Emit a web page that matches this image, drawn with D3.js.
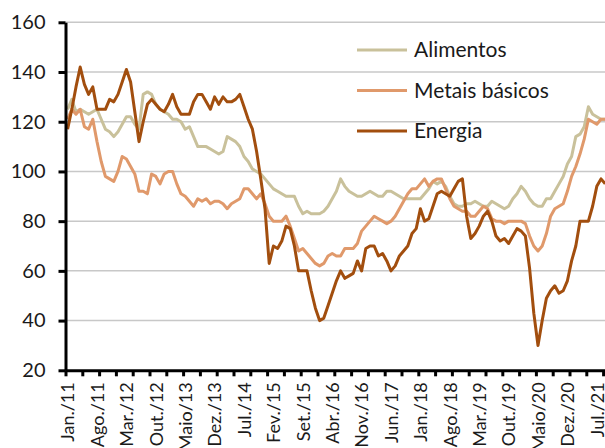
<!DOCTYPE html>
<html>
<head>
<meta charset="utf-8">
<script src="https://cdn.jsdelivr.net/npm/d3@7"></script>
<style>
  body { margin: 0; background: #fff; }
  svg { display: block; }
  text { font-family: Lato, "Noto Sans", sans-serif; fill: #1a1a1a; }
</style>
</head>
<body>
<svg id="chart" width="605" height="448"></svg>
<script>
// Monthly commodity price indices, Jan/2011 onwards
const xTickLabels = ["Jan./11", "Ago./11", "Mar./12", "Out./12", "Maio/13", "Dez./13", "Jul./14",
  "Fev./15", "Set./15", "Abr./16", "Nov./16", "Jun./17", "Jan./18", "Ago./18", "Mar./19",
  "Out./19", "Maio/20", "Dez./20", "Jul./21"];
const xTickMonths = [0, 7, 14, 21, 28, 35, 42, 49, 56, 63, 70, 77, 84, 91, 98, 105, 112, 119, 126];
const yTicks = [20, 40, 60, 80, 100, 120, 140, 160];

const alimentos = [125, 129, 124, 125, 124, 123, 124, 125, 121, 117, 116, 114, 116, 119, 122, 122,
  119, 117, 131, 132, 131, 127, 125, 124, 123, 121, 121, 120, 117, 118, 114, 110,
  110, 110, 109, 108, 107, 108, 114, 113, 112, 110, 106, 104, 101, 100, 99, 97,
  95, 93, 92, 91, 90, 90, 90, 86, 83, 84, 83, 83, 83, 84, 86, 89,
  92, 97, 94, 92, 91, 90, 90, 91, 92, 91, 90, 90, 92, 92, 91, 90,
  89, 89, 89, 89, 89, 91, 93, 96, 95, 96, 94, 90, 87, 86, 86, 87,
  87, 88, 87, 86, 86, 88, 87, 86, 85, 86, 89, 91, 94, 92, 89, 87,
  86, 86, 89, 89, 92, 95, 98, 103, 106, 114, 115, 118, 126, 123, 122, 121, 121];

const metais = [121, 125, 123, 125, 118, 117, 121, 112, 104, 98, 97, 96, 100, 106, 105, 102,
  99, 92, 92, 91, 99, 98, 95, 99, 100, 100, 95, 91, 90, 88, 86, 89,
  88, 89, 87, 88, 88, 87, 85, 87, 88, 89, 93, 93, 91, 89, 91, 87,
  82, 80, 80, 80, 82, 78, 73, 68, 69, 67, 65, 63, 62, 63, 66, 67,
  66, 66, 69, 69, 69, 71, 76, 78, 80, 82, 81, 80, 79, 80, 82, 85,
  88, 91, 93, 93, 95, 97, 94, 96, 97, 97, 93, 89, 86, 85, 84, 84,
  82, 82, 84, 86, 85, 81, 80, 80, 79, 80, 80, 80, 80, 79, 74, 70,
  68, 70, 75, 82, 85, 86, 87, 92, 98, 102, 107, 113, 121, 120, 119, 121, 121];

const energia = [117, 125, 134, 142, 135, 131, 134, 125, 125, 125, 129, 128, 131, 136, 141, 136,
  124, 112, 120, 127, 129, 127, 125, 124, 127, 131, 126, 123, 123, 123, 128, 131,
  131, 128, 125, 130, 127, 130, 128, 128, 129, 131, 126, 121, 117, 108, 97, 85,
  63, 70, 69, 72, 78, 77, 70, 60, 60, 60, 52, 45, 40, 41, 46, 51,
  56, 60, 57, 58, 59, 64, 60, 69, 70, 70, 66, 67, 64, 60, 62, 66,
  68, 70, 75, 77, 85, 80, 81, 86, 91, 92, 91, 90, 93, 96, 97, 82,
  73, 75, 78, 82, 84, 80, 74, 72, 73, 71, 74, 77, 76, 74, 61, 43,
  30, 40, 49, 52, 54, 51, 52, 56, 64, 70, 80, 80, 80, 86, 94, 97, 95];

const seriesNames = ["Alimentos", "Metais básicos", "Energia"];
const seriesColors = ["#c9c19b", "#e0996b", "#a24e0e"];
const seriesData = [alimentos, metais, energia];

const svg = d3.select("#chart");
const W = 605, H = 448;
const plot = { left: 65.5, top: 22.3, bottom: 370.3 };
const monthWidth = 4.2;
const nMonths = energia.length;

const x = d3.scaleLinear()
  .domain([-0.5, nMonths - 0.5])
  .range([plot.left, plot.left + nMonths * monthWidth]);
const y = d3.scaleLinear().domain([20, 160]).range([plot.bottom, plot.top]);

svg.append("rect").attr("width", W).attr("height", H).attr("fill", "#fff");

// horizontal gridlines
svg.append("g")
  .selectAll("line")
  .data(yTicks.filter(v => v > 20))
  .join("line")
  .attr("x1", plot.left).attr("x2", W)
  .attr("y1", d => y(d)).attr("y2", d => y(d))
  .attr("stroke", "#c8c8c8").attr("stroke-width", 1.5);

// series lines
const line = d3.line().x((d, i) => x(i)).y(d => y(d));
svg.append("g")
  .selectAll("path")
  .data(seriesData)
  .join("path")
  .attr("d", line)
  .attr("fill", "none")
  .attr("stroke", (d, i) => seriesColors[i])
  .attr("stroke-width", 3)
  .attr("stroke-linejoin", "round");

// y axis
const yAxis = svg.append("g")
  .attr("transform", `translate(${plot.left},0)`)
  .call(d3.axisLeft(y).tickValues(yTicks).tickSize(7).tickPadding(13).tickSizeOuter(0));
yAxis.select(".domain").attr("stroke", "#000").attr("stroke-width", 3);
yAxis.selectAll(".tick line").attr("stroke", "#000").attr("stroke-width", 3);
yAxis.selectAll(".tick text").style("font-size", "20px").style("font-family", "Lato, sans-serif").attr("fill", "#1a1a1a");

// x axis: tick marks every four months
const tickBounds = d3.range(-0.5, nMonths, 4);
const xAxis = svg.append("g")
  .attr("transform", `translate(0,${plot.bottom})`)
  .call(d3.axisBottom(x).tickValues(tickBounds).tickSize(6).tickFormat("").tickSizeOuter(0));
xAxis.select(".domain").attr("stroke", "#000").attr("stroke-width", 3);
xAxis.selectAll(".tick line").attr("stroke", "#000").attr("stroke-width", 3);

// x axis: rotated month labels
const xLabels = svg.append("g")
  .attr("transform", `translate(0,${plot.bottom})`)
  .call(d3.axisBottom(x).tickValues(xTickMonths).tickSize(0)
    .tickFormat((d, i) => xTickLabels[i]));
xLabels.select(".domain").remove();
xLabels.selectAll(".tick text")
  .attr("transform", "rotate(-90)")
  .attr("x", -12).attr("y", 0).attr("dy", "0.35em")
  .style("text-anchor", "end")
  .style("font-size", "18px")
  .style("font-family", "Lato, sans-serif")
  .attr("fill", "#1a1a1a");

// legend
const legend = svg.append("g").attr("transform", "translate(357,50)");
const items = legend.selectAll("g").data(seriesNames).join("g")
  .attr("transform", (d, i) => `translate(0,${i * 40.5})`);
items.append("line")
  .attr("x1", 0).attr("x2", 50).attr("y1", 0).attr("y2", 0)
  .attr("stroke", (d, i) => seriesColors[i]).attr("stroke-width", 3);
items.append("text")
  .attr("x", 57).attr("y", 0).attr("dy", "0.35em")
  .style("font-size", "21px")
  .text(d => d);
</script>
</body>
</html>
